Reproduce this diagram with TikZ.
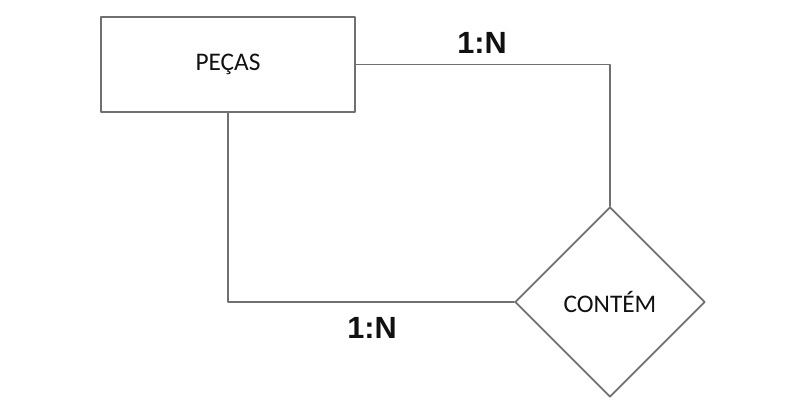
\documentclass[tikz,border=0pt]{standalone}
\usepackage{fontspec}
\setmainfont{Carlito}
\newfontfamily\cardfont{Liberation Sans}
\usetikzlibrary{shapes.geometric, positioning}
\definecolor{linegray}{HTML}{707070}
\definecolor{textblack}{HTML}{111111}

\begin{document}
\begin{tikzpicture}[x=0.75pt, y=-0.75pt, line cap=round, line join=round]

      % Area fixa
      \useasboundingbox (0,0) rectangle (807,410);

      % Entidade
      \node[draw=linegray, line width=1.3pt, minimum width=190.5pt, minimum height=71.25pt,
            inner sep=0pt, font=\fontsize{19pt}{21pt}\selectfont, text=textblack] (Pecas) at (228, 64.5) {PEÇAS};

      % Relacionamento
      \node[draw=linegray, line width=1.3pt, diamond, aspect=1, minimum width=142.5pt, minimum height=142.5pt,
            inner sep=0pt, font=\fontsize{19pt}{21pt}\selectfont, text=textblack] (Contem) at (610, 302) {CONTÉM};

      % Ligacoes
      \draw[linegray, line width=1.3pt] (Pecas.east) -| (Contem.north);
      \draw[linegray, line width=1.3pt] (Pecas.south) |- (Contem.west);

      % Cardinalidades
      \node[text=textblack] (CardTop) at (482, 43) {\cardfont\bfseries\fontsize{23pt}{25pt}\selectfont 1:N};
      \node[text=textblack] (CardBot) at (372, 328) {\cardfont\bfseries\fontsize{23pt}{25pt}\selectfont 1:N};

    \end{tikzpicture}
\end{document}
